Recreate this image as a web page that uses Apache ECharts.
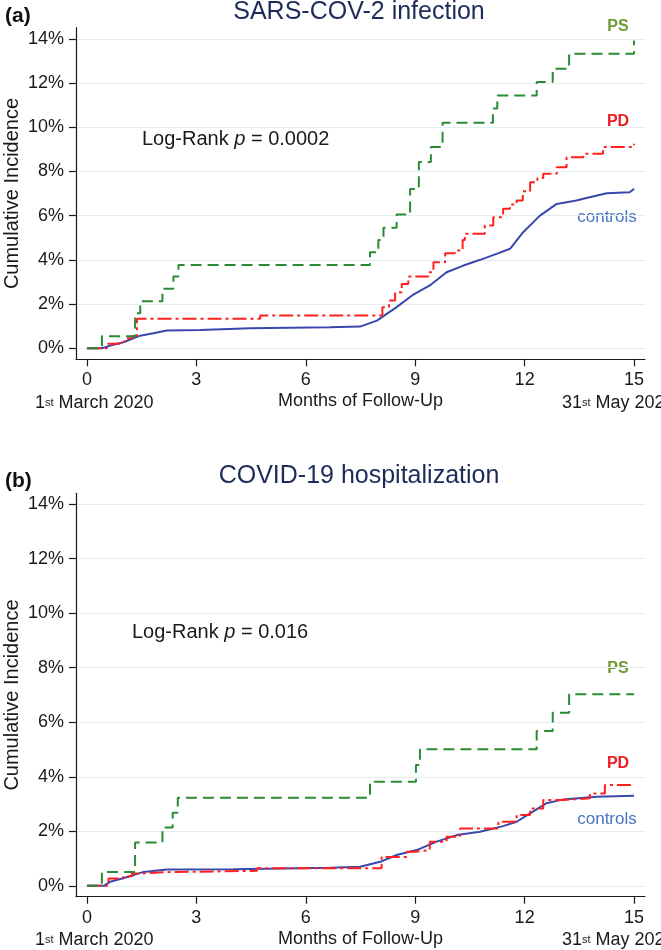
<!DOCTYPE html>
<html><head><meta charset="utf-8">
<script src="https://cdn.jsdelivr.net/npm/echarts@6/dist/echarts.min.js"></script>
<style>html,body{margin:0;padding:0;background:#fff}#c{width:661px;height:950px}</style>
</head><body><div id="c"></div>
<script>
// ---- tick labels ----
const monthTicks = [0, 3, 6, 9, 12, 15];
const pctTicks = [0, 2, 4, 6, 8, 10, 12, 14];

// ---- (a) SARS-COV-2 infection : [month, cumulative incidence %] ----
const psInfection = [[0,0],[0.41,0.54],[1.32,1.58],[1.46,2.13],[2.07,2.69],[2.37,3.24],[2.51,3.77],[7.76,4.34],[7.99,4.9],[8.13,5.45],[8.49,6.05],[8.86,7.2],[9.1,8.42],[9.43,9.1],[9.75,10.2],[11.13,10.85],[11.25,11.43],[12.33,12.04],[12.77,12.64],[13.22,13.32],[15.0,13.92]];
const pdInfection = [[0,0],[0.55,0.2],[0.9,0.3],[1.05,0.45],[1.23,0.55],[1.37,1.33],[4.75,1.48],[8.1,1.86],[8.28,2.16],[8.45,2.53],[8.63,2.91],[8.81,3.24],[9.36,3.44],[9.5,3.89],[9.82,4.3],[10.09,4.42],[10.3,4.9],[10.36,5.18],[10.91,5.55],[11.14,5.93],[11.41,6.31],[11.6,6.5],[11.78,6.68],[11.95,7.1],[12.15,7.51],[12.35,7.7],[12.51,7.89],[12.88,8.19],[13.15,8.64],[13.61,8.8],[14.15,9.1],[15.0,9.25]];
const ctInfection = [[0,0],[0.41,0],[0.64,0.12],[1.0,0.27],[1.46,0.57],[1.82,0.68],[2.19,0.8],[3.1,0.83],[4.47,0.9],[6.66,0.95],[7.49,0.98],[7.95,1.25],[8.49,1.86],[8.95,2.43],[9.4,2.84],[9.86,3.44],[10.32,3.74],[10.78,4.0],[11.23,4.27],[11.6,4.5],[11.96,5.25],[12.42,6.0],[12.88,6.53],[13.42,6.68],[13.61,6.76],[14.25,7.01],[14.88,7.06],[15.0,7.21]];

// ---- (b) COVID-19 hospitalization ----
const psHosp = [[0,0],[0.41,0.51],[1.32,1.59],[2.07,2.14],[2.35,2.68],[2.49,3.23],[7.76,3.82],[9.02,4.43],[9.13,5.01],[12.33,5.68],[12.77,6.35],[13.22,7.03],[15.0,7.03]];
const pdHosp = [[0,0],[0.59,0.27],[1.0,0.35],[1.23,0.45],[1.5,0.5],[2.2,0.55],[4.66,0.64],[8.08,1.06],[8.77,1.25],[9.0,1.31],[9.4,1.62],[9.86,1.8],[10.23,2.1],[11.28,2.35],[11.78,2.6],[12.15,2.84],[12.51,3.15],[13.06,3.21],[13.79,3.39],[14.2,3.7],[15.0,3.7]];
const ctHosp = [[0,0],[0.46,0],[0.64,0.15],[1.28,0.39],[1.55,0.51],[2.19,0.6],[4.02,0.61],[6.67,0.66],[7.49,0.7],[8.04,0.88],[8.49,1.13],[9.04,1.31],[9.59,1.62],[10.14,1.86],[10.78,1.98],[11.41,2.19],[11.78,2.35],[12.15,2.66],[12.6,3.03],[13.06,3.17],[13.97,3.27],[15.0,3.3]];

const FONT = '"Liberation Sans", Arial, Helvetica, sans-serif';
const AX = '#1a1a1a';
const GREEN = '#2b8a34', RED = '#ff1f1f', BLUE = '#3a48ae';

function xAxis(gi) {
  return {
    type: 'value', gridIndex: gi, min: -0.3, max: 15.3,
    axisLine: {show: true, onZero: false, lineStyle: {color: AX, width: 1.2}},
    axisTick: {show: true, length: 7, customValues: monthTicks, lineStyle: {color: AX, width: 1.2}},
    axisLabel: {customValues: monthTicks, fontSize: 18, color: AX, margin: 12, fontFamily: FONT},
    splitLine: {show: false},
    name: 'Months of Follow-Up', nameLocation: 'middle', nameGap: 33, nameMoveOverlap: false,
    nameTextStyle: {fontSize: 18, color: AX, fontFamily: FONT}
  };
}
function yAxis(gi, min, max) {
  return {
    type: 'value', gridIndex: gi, min: min, max: max,
    axisLine: {show: true, onZero: false, lineStyle: {color: AX, width: 1.2}},
    axisTick: {show: true, length: 7, customValues: pctTicks, lineStyle: {color: AX, width: 1.2}},
    axisLabel: {customValues: pctTicks, fontSize: 18, color: AX, margin: 12, fontFamily: FONT, formatter: v => v + '%'},
    splitLine: {show: true, lineStyle: {color: '#e4edef', width: 1}},
    name: 'Cumulative Incidence', nameLocation: 'middle', nameGap: 54, nameRotate: 90, nameMoveOverlap: false,
    nameTextStyle: {fontSize: 20, color: AX, fontFamily: FONT}
  };
}
function line(name, data, color, dash, gi, step, z) {
  return {
    type: 'line', name: name, xAxisIndex: gi, yAxisIndex: gi, data: data,
    step: step ? 'end' : false, showSymbol: false, symbol: 'none', silent: true, z: z,
    lineStyle: {color: color, width: 2, type: dash}
  };
}
function txt(x, y, text, font, fill, align) {
  return {type: 'text', x: x, y: y, silent: true,
    style: {text: text, font: font, fill: fill, textAlign: align || 'left', textVerticalAlign: 'middle'}};
}
function dateText(x, y, a, s, b) {
  return {type: 'text', x: x, y: y, silent: true,
    style: {text: '{a|' + a + '}{s|' + s + '}{a|' + b + '}', textAlign: 'left', textVerticalAlign: 'middle',
      rich: {a: {fontSize: 18, fontFamily: FONT, fill: AX, height: 20},
             s: {fontSize: 11, fontFamily: FONT, fill: AX, verticalAlign: 'top', height: 20, lineHeight: 12}}}};
}
function logRank(x, y, p) {
  return {type: 'text', x: x, y: y, silent: true,
    style: {text: '{a|Log-Rank }{i|p}{a| = ' + p + '}', textAlign: 'left', textVerticalAlign: 'middle',
      rich: {a: {fontSize: 20, fontFamily: FONT, fill: AX}, i: {fontSize: 20, fontFamily: FONT, fontStyle: 'italic', fill: AX}}}};
}

const chart = echarts.init(document.getElementById('c'), null, {renderer: 'canvas'});
const TITLE = '25px ' + FONT;
chart.setOption({
  animation: false,
  backgroundColor: '#fff',
  grid: [
    {left: 76, right: 16, top: 27.7, height: 331.6, containLabel: false, outerBoundsMode: 'none'},
    {left: 76, right: 16, top: 493.3, height: 403.4, containLabel: false, outerBoundsMode: 'none'}
  ],
  xAxis: [xAxis(0), xAxis(1)],
  yAxis: [yAxis(0, -0.5, 14.5), yAxis(1, -0.4, 14.4)],
  series: [
    line('controls', ctInfection, BLUE, 'solid', 0, false, 2),
    line('PD', pdInfection, RED, [14, 4, 3, 4], 0, true, 3),
    line('PS', psInfection, GREEN, [11, 6], 0, true, 4),
    line('controls', ctHosp, BLUE, 'solid', 1, false, 2),
    line('PD', pdHosp, RED, [14, 4, 3, 4], 1, true, 3),
    line('PS', psHosp, GREEN, [11, 6], 1, true, 4)
  ],
  graphic: [
    txt(5, 16, '(a)', 'bold 21px ' + FONT, '#111'),
    txt(359, 12, 'SARS-COV-2 infection', TITLE, '#1c2b58', 'center'),
    logRank(142, 139, '0.0002'),
    txt(618, 26.5, 'PS', 'bold 16px ' + FONT, '#6e9a32', 'center'),
    txt(618, 121.5, 'PD', 'bold 16px ' + FONT, '#ee1c25', 'center'),
    txt(607, 217, 'controls', '17px ' + FONT, '#4a74c4', 'center'),
    dateText(35, 402.6, '1', 'st', ' March 2020'),
    dateText(562, 402.6, '31', 'st', ' May 2021'),

    txt(5, 481, '(b)', 'bold 21px ' + FONT, '#111'),
    txt(359, 476, 'COVID-19 hospitalization', TITLE, '#1c2b58', 'center'),
    logRank(132, 632, '0.016'),
    txt(618, 669, 'PS', 'bold 16px ' + FONT, '#6e9a32', 'center'),
    txt(618, 764, 'PD', 'bold 16px ' + FONT, '#ee1c25', 'center'),
    txt(607, 819, 'controls', '17px ' + FONT, '#4a74c4', 'center'),
    dateText(35, 940, '1', 'st', ' March 2020'),
    dateText(562, 940, '31', 'st', ' May 2021')
  ]
});
</script>
</body></html>
